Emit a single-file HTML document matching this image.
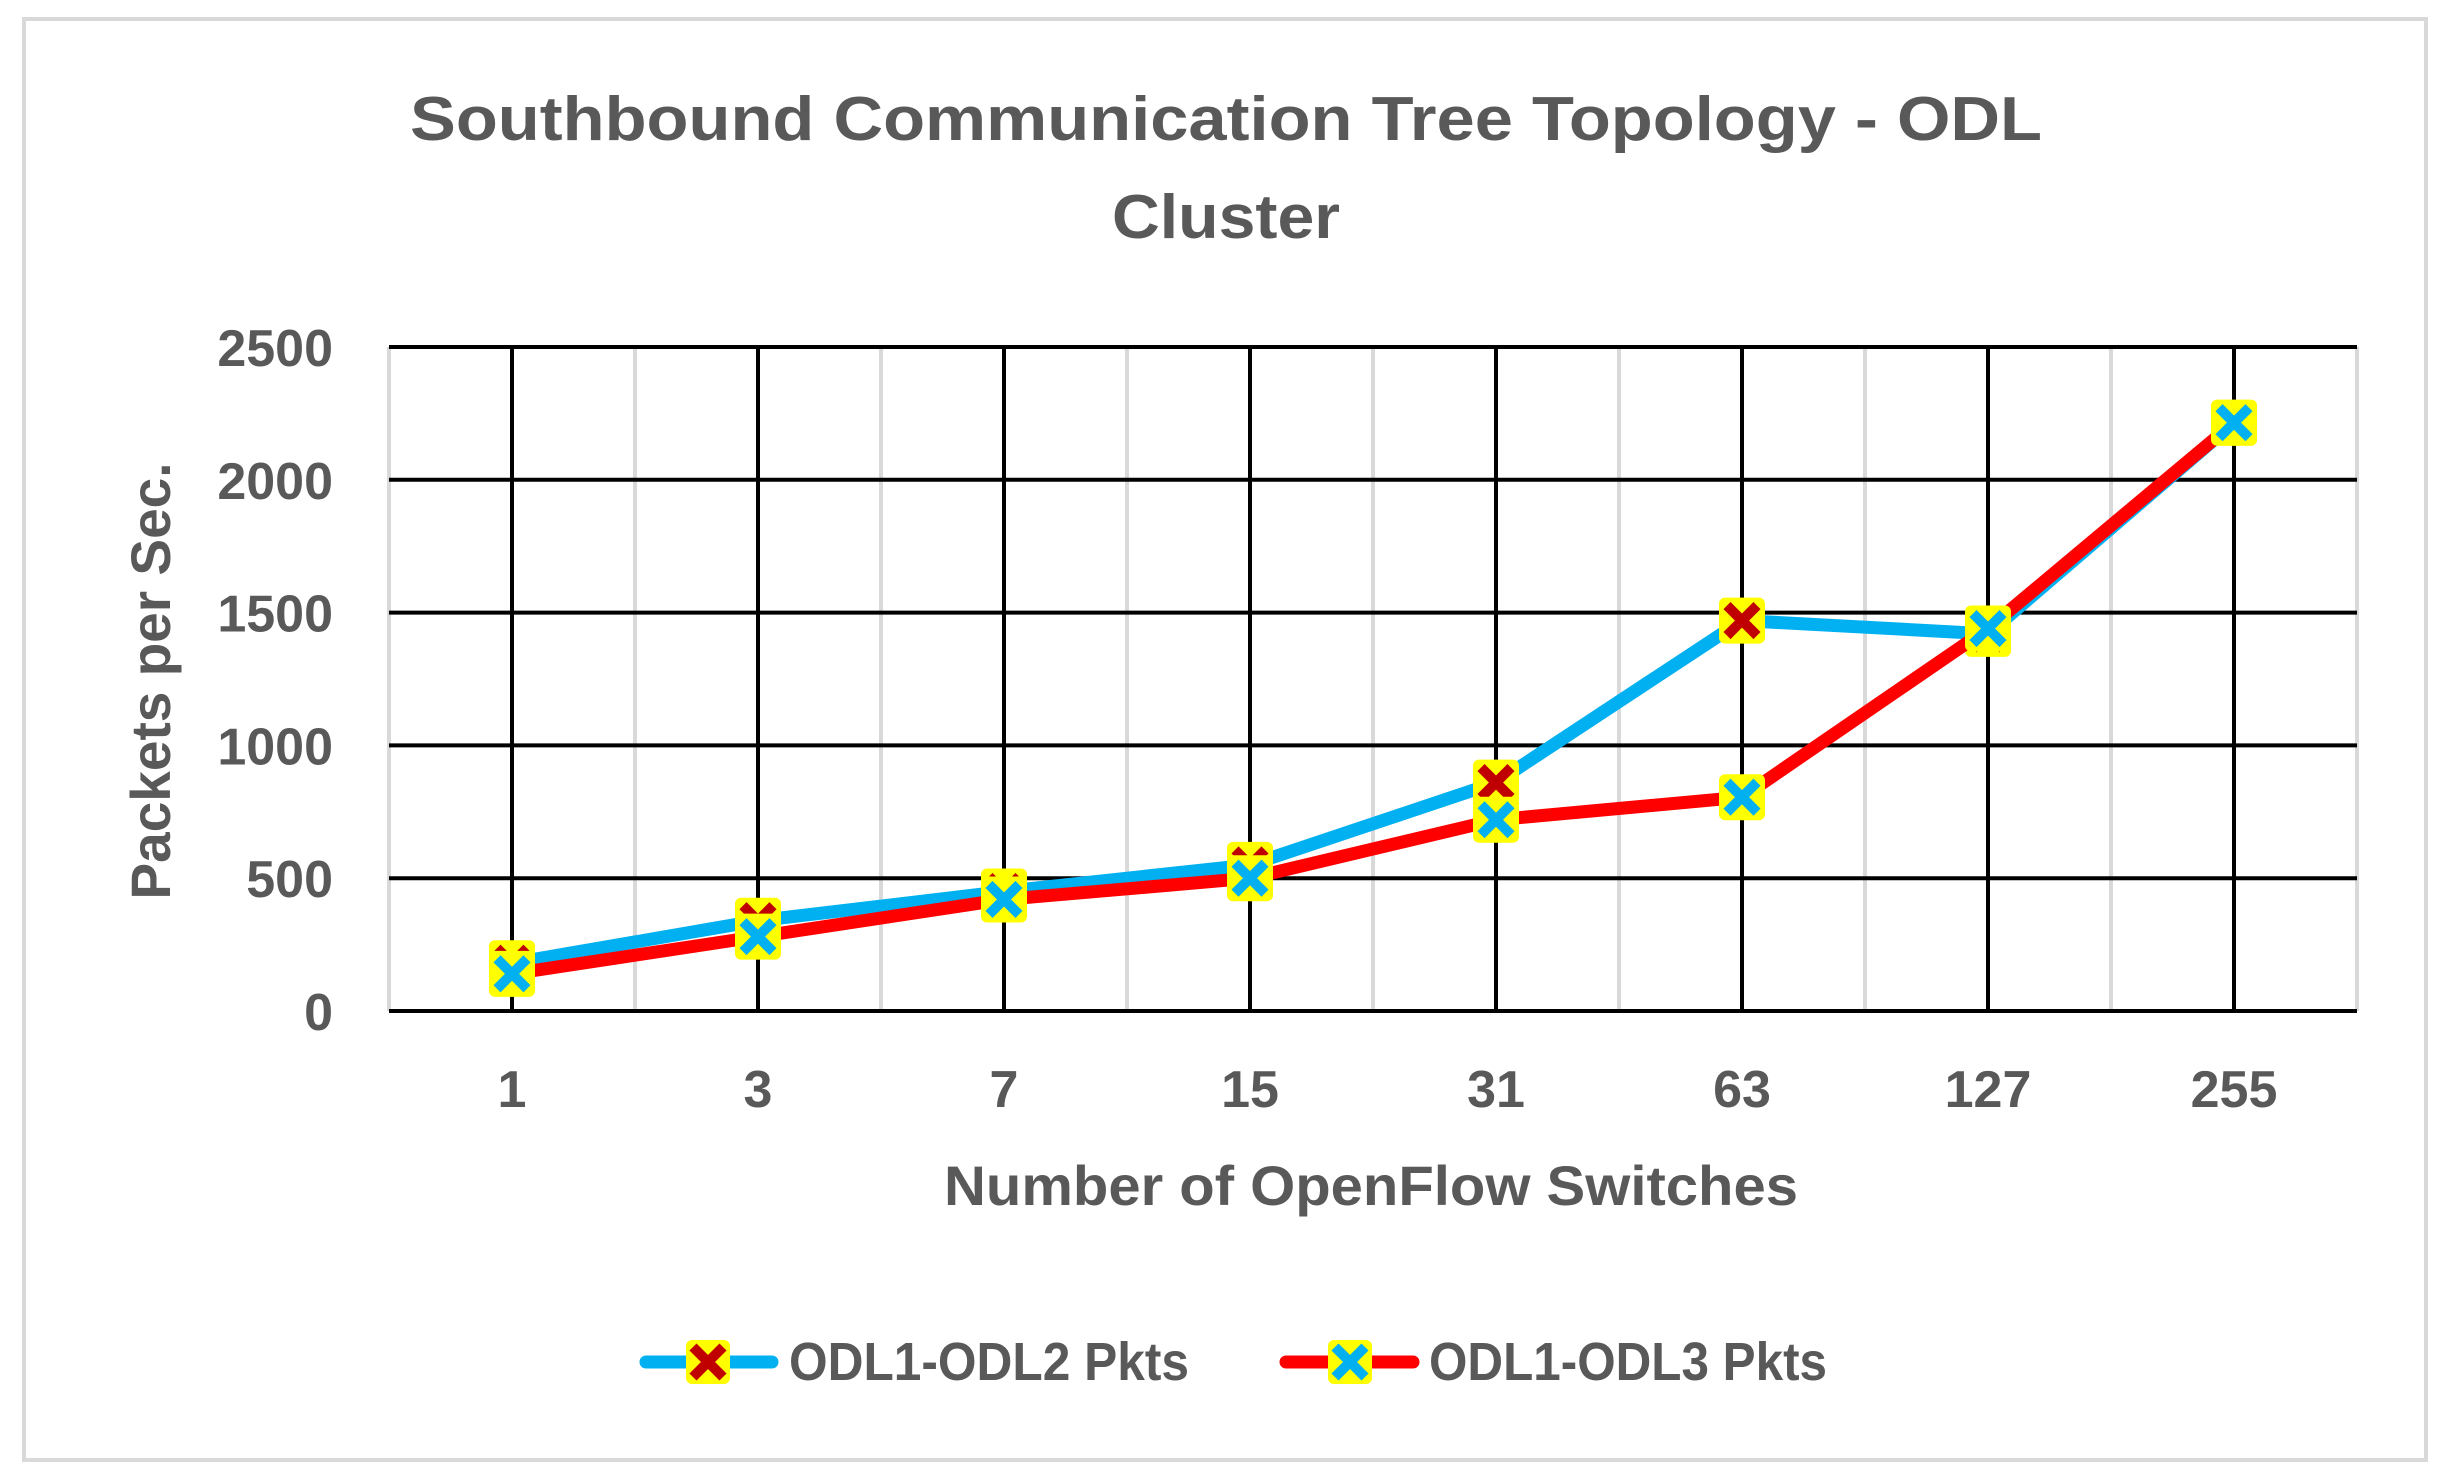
<!DOCTYPE html>
<html><head><meta charset="utf-8"><style>
html,body{margin:0;padding:0;background:#fff;}
svg{display:block;font-family:"Liberation Sans",sans-serif;font-weight:bold;}
</style></head><body>
<svg id="chart" width="2448" height="1477" viewBox="0 0 2448 1477" xmlns="http://www.w3.org/2000/svg">
<rect x="24" y="19" width="2402" height="1441" fill="#fff" stroke="#d9d9d9" stroke-width="4"/>
<text x="1226" y="140" text-anchor="middle" font-size="62" fill="#595959" textLength="1632" lengthAdjust="spacingAndGlyphs">Southbound Communication Tree Topology - ODL</text>
<text x="1226" y="238" text-anchor="middle" font-size="62" fill="#595959" textLength="228" lengthAdjust="spacingAndGlyphs">Cluster</text>
<g id="grid"></g>
<g id="yticks"></g>
<g id="xticks"></g>
<text transform="translate(170,681) rotate(-90)" text-anchor="middle" font-size="56" fill="#595959" textLength="437" lengthAdjust="spacingAndGlyphs">Packets per Sec.</text>
<text x="1371" y="1205" text-anchor="middle" font-size="56" fill="#595959" textLength="854" lengthAdjust="spacingAndGlyphs">Number of OpenFlow Switches</text>
<g id="series"></g>
<g>
  <g>
    <line x1="646" y1="1362" x2="772" y2="1362" stroke="#00B0F0" stroke-width="13" stroke-linecap="round"/>
    <rect x="686" y="1340" width="44" height="44" rx="6" fill="#FFFF00"/>
    <path d="M693,1347 L723,1377 M723,1347 L693,1377" stroke="#C00000" stroke-width="10"/>
    <text x="789" y="1380" font-size="54" fill="#595959" textLength="400" lengthAdjust="spacingAndGlyphs">ODL1-ODL2 Pkts</text>
  </g>
  <g>
    <line x1="1286" y1="1362" x2="1413" y2="1362" stroke="#FF0000" stroke-width="13" stroke-linecap="round"/>
    <rect x="1328" y="1340" width="44" height="44" rx="6" fill="#FFFF00"/>
    <path d="M1335,1347 L1365,1377 M1365,1347 L1335,1377" stroke="#00B0F0" stroke-width="10"/>
    <text x="1429" y="1380" font-size="54" fill="#595959" textLength="398" lengthAdjust="spacingAndGlyphs">ODL1-ODL3 Pkts</text>
  </g>
</g>
</svg>
<script>
const categories = ["1","3","7","15","31","63","127","255"];
const odl2Values = [180, 340, 450, 550, 860, 1470, 1420, 2215];
const odl3Values = [140, 280, 420, 500, 720, 805, 1440, 2215];
const yTicks = [0, 500, 1000, 1500, 2000, 2500];
const NS = "http://www.w3.org/2000/svg";
const plotL = 389, plotR = 2357, plotT = 347, plotB = 1011, yMax = 2500;
const step = (plotR - plotL) / categories.length;
function xPos(i){ return plotL + step * (i + 0.5); }
function yPos(v){ return plotB - (v / yMax) * (plotB - plotT); }
function mk(tag, attrs, parent){ const e = document.createElementNS(NS, tag); for (const k in attrs) e.setAttribute(k, attrs[k]); parent.appendChild(e); return e; }
const grid = document.getElementById('grid');
for (let i = 0; i <= categories.length; i++) {
  const l = mk('line', {x1: plotL + step*i, x2: plotL + step*i, y1: plotT, y2: plotB, stroke: '#d9d9d9', 'stroke-width': 4}, grid);
  
  
}
categories.forEach((c, i) => {
  const l = mk('line', {x1: xPos(i), x2: xPos(i), y1: plotT, y2: plotB, stroke: '#000', 'stroke-width': 4}, grid);
  
  
  const t = mk('text', {x: xPos(i), y: plotB + 96, 'text-anchor': 'middle', 'font-size': 52, fill: '#595959'}, document.getElementById('xticks'));
  t.textContent = c;
  
  
});
yTicks.forEach(v => {
  const l = mk('line', {x1: plotL, x2: plotR, y1: yPos(v), y2: yPos(v), stroke: '#000', 'stroke-width': 4}, grid);
  
  
  const t = mk('text', {x: 333, y: yPos(v) + 19, 'text-anchor': 'end', 'font-size': 52, fill: '#595959'}, document.getElementById('yticks'));
  t.textContent = v;
  
  
});
const series = document.getElementById('series');
function drawSeries(vals, lineColor, xColor, name){
  const g = mk('g', {}, series);
  
  
  const pts = vals.map((v, i) => xPos(i) + ',' + yPos(v)).join(' ');
  const pl = mk('polyline', {points: pts, fill: 'none', stroke: lineColor, 'stroke-width': 13, 'stroke-linejoin': 'round', 'stroke-linecap': 'round'}, g);
  
  
  return g;
}
function drawMarkers(g, vals, xColor, name){
  vals.forEach((v, i) => {
    const cx = xPos(i), cy = yPos(v);
    const m = mk('g', {}, g);
    
    
    mk('rect', {x: cx - 23, y: cy - 23, width: 46, height: 46, rx: 6, fill: '#FFFF00'}, m);
    mk('path', {d: `M${cx-15},${cy-15} L${cx+15},${cy+15} M${cx+15},${cy-15} L${cx-15},${cy+15}`, stroke: xColor, 'stroke-width': 10}, m);
  });
}
const g2 = drawSeries(odl2Values, '#00B0F0', '#C00000', 'odl1-odl2-series');
const g3 = drawSeries(odl3Values, '#FF0000', '#00B0F0', 'odl1-odl3-series');
drawMarkers(g2, odl2Values, '#C00000', 'odl1-odl2');
drawMarkers(g3, odl3Values, '#00B0F0', 'odl1-odl3');
</script>
</body></html>
